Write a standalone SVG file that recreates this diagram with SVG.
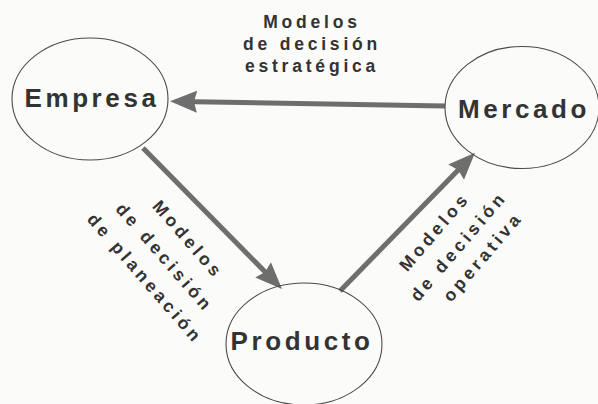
<svg xmlns="http://www.w3.org/2000/svg" width="598" height="404" viewBox="0 0 598 404">
  <defs>
    <style>
      .node ellipse { fill: none; stroke: #4a4a4a; stroke-width: 1.1; }
      .node text { font-family: "Liberation Sans", Arial, sans-serif; font-weight: bold; font-size: 26px; letter-spacing: 3.6px; fill: #333; text-anchor: middle; }
      .conn line { stroke: #6e6e6e; stroke-width: 5; }
      .lbl text { font-family: "Liberation Sans", Arial, sans-serif; font-weight: bold; font-size: 17.5px; letter-spacing: 3.8px; fill: #333; text-anchor: middle; }
    </style>
    <marker id="ah" markerUnits="userSpaceOnUse" markerWidth="30" markerHeight="26" viewBox="0 0 30 26" refX="17" refY="12" orient="auto">
      <path d="M0,1 L27,12 L0,23 L3,12 z" fill="#6e6e6e"/>
    </marker>
  </defs>
  <rect width="598" height="404" fill="#fbfbf9"/>

  <g id="connectors" class="conn">
    <line x1="445" y1="106" x2="180" y2="101.5" marker-end="url(#ah)"/>
    <line x1="143" y1="148" x2="275" y2="282" marker-end="url(#ah)"/>
    <line x1="340" y1="291" x2="468" y2="160" marker-end="url(#ah)"/>
  </g>

  <g id="empresa" class="node">
    <ellipse cx="90" cy="99" rx="78" ry="61"/>
    <text x="92" y="107">Empresa</text>
  </g>
  <g id="mercado" class="node">
    <ellipse cx="522" cy="107.5" rx="77" ry="61"/>
    <text x="524" y="118">Mercado</text>
  </g>
  <g id="producto" class="node">
    <ellipse cx="304" cy="344" rx="78" ry="61"/>
    <text x="302" y="350">Producto</text>
  </g>

  <g id="label-estrategica" class="lbl">
    <text x="312" y="28">Modelos</text>
    <text x="312" y="50">de decisión</text>
    <text x="312" y="72">estratégica</text>
  </g>
  <g id="label-planeacion" class="lbl">
    <text transform="translate(182.3,242) rotate(49)" x="2" y="0">Modelos</text>
    <text transform="translate(158.8,260) rotate(49)" x="2" y="0">de decisión</text>
    <text transform="translate(139.3,281) rotate(49)" x="2" y="0">de planeación</text>
  </g>
  <g id="label-operativa" class="lbl">
    <text transform="translate(437.7,237) rotate(-49.5)" x="2" y="0">Modelos</text>
    <text transform="translate(461.7,251.5) rotate(-49.5)" x="2" y="0">de decisión</text>
    <text transform="translate(486,262) rotate(-49.5)" x="2" y="0">operativa</text>
  </g>
</svg>
